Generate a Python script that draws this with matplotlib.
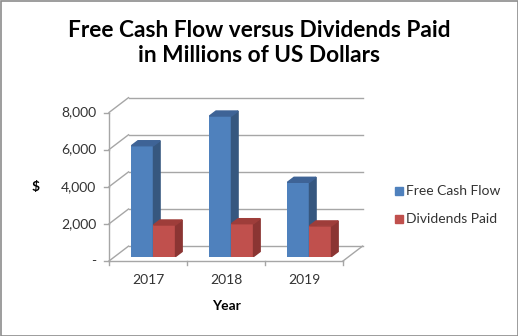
import numpy as np
import matplotlib.pyplot as plt
from matplotlib.patches import Polygon, Rectangle

plt.rcParams['font.family'] = ['Lato', 'DejaVu Sans']

years = ["2017", "2018", "2019"]
free_cash_flow = [5970, 7570, 4000]
dividends_paid = [1700, 1770, 1650]
series_names = ["Free Cash Flow", "Dividends Paid"]
y_ticks = [0, 2000, 4000, 6000, 8000]
y_tick_labels = ["-", "2,000", "4,000", "6,000", "8,000"]

# colours: front, side, top
blue = ("#4F81BD", "#36577F", "#3E6396")
red = ("#C0504D", "#8B3533", "#9E3D3A")
grid_col = "#a6a6a6"
txt_col = "#333333"

fig = plt.figure(figsize=(5.18, 3.36), dpi=100)
ax = fig.add_axes([109 / 518, 1 - 261 / 336, 234 / 518, 148.5 / 336])
ax.set_xlim(-0.5, 2.5)
ax.set_ylim(0, 8000)
ax.axis("off")

# 3D offsets in data units (depth of the box, and bar placement in depth)
DX, DY = 0.25, 800
FX, FY = 0.07, 240
BX, BY = 0.085, 270
w = 0.283

# side wall + back wall gridlines
for v in y_ticks:
    ax.plot([-0.5, -0.5 + DX], [v, v + DY], color=grid_col, lw=1, clip_on=False)
    ax.plot([-0.5 + DX, 2.5 + DX], [v + DY, v + DY], color=grid_col, lw=1, clip_on=False)
    ax.plot([-0.56, -0.5], [v, v], color=grid_col, lw=1, clip_on=False)
# front axis line and floor
ax.plot([-0.5, -0.5], [0, 8000], color=grid_col, lw=1, clip_on=False)
ax.plot([-0.5, 2.5], [0, 0], color=grid_col, lw=1, clip_on=False)
ax.plot([2.5, 2.5 + DX], [0, DY], color=grid_col, lw=1, clip_on=False)
for xt in [-0.5, 0.5, 1.5, 2.5]:
    ax.plot([xt, xt], [0, -230], color=grid_col, lw=1, clip_on=False)


def bar3d(x0, v, cols):
    x1 = x0 + w
    ax.bar(x0, v, width=w, bottom=FY, align="edge", color=cols[0], zorder=3)
    side = [(x1, FY), (x1 + BX, FY + BY), (x1 + BX, FY + BY + v), (x1, FY + v)]
    top = [(x0, FY + v), (x1, FY + v), (x1 + BX, FY + v + BY), (x0 + BX, FY + v + BY)]
    ax.add_patch(Polygon(side, closed=True, color=cols[1], zorder=3, clip_on=False))
    ax.add_patch(Polygon(top, closed=True, color=cols[2], zorder=3, clip_on=False))


for i in range(len(years)):
    bar3d(i + FX - w, free_cash_flow[i], blue)
    bar3d(i + FX, dividends_paid[i], red)

# tick labels
for v, lab in zip(y_ticks, y_tick_labels):
    ax.text(-0.66, v, lab, ha="right", va="center", fontsize=10, color=txt_col)
for i, yr in enumerate(years):
    ax.text(i, -1050, yr, ha="center", va="center", fontsize=10, color=txt_col)

fig.text(36 / 518, 1 - 187 / 336, "$", ha="center", va="center", fontsize=10, fontweight="bold")
fig.text(226 / 518, 1 - 306 / 336, "Year", ha="center", va="center", fontsize=10, fontweight="bold")
fig.text(259 / 518, 1 - 43 / 336, "Free Cash Flow versus Dividends Paid\nin Millions of US Dollars",
         ha="center", va="center", fontsize=16.3, fontweight="bold", linespacing=1.25)

# legend
for name, cols, yy in zip(series_names, [blue, red], [191, 219]):
    fig.patches.append(Rectangle((395 / 518, 1 - (yy + 4) / 336), 8 / 518, 8 / 336,
                                 transform=fig.transFigure, color=cols[0]))
    fig.text(406 / 518, 1 - yy / 336, name, ha="left", va="center", fontsize=10, color=txt_col)

# chart border
fig.patches.append(Rectangle((0.5 / 518, 0.5 / 336), 517 / 518, 335 / 336, transform=fig.transFigure,
                             fill=False, edgecolor="#8c8c8c", lw=1.2))

fig.savefig("out.png", dpi=100)
